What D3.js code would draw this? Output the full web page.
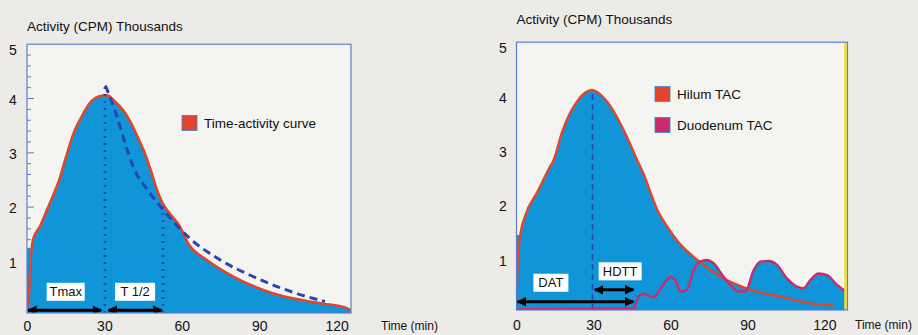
<!DOCTYPE html>
<html>
<head>
<meta charset="utf-8">
<script src="https://cdn.jsdelivr.net/npm/d3@7"></script>
<style>
  html, body { margin: 0; padding: 0; background: #ecebe8; }
  svg { display: block; }
  text { font-family: "Liberation Sans", Arial, sans-serif; fill: #111; }
</style>
</head>
<body>
<svg id="chart" width="918" height="335"></svg>
<script>
// ---- data: time (min) and activity (CPM, thousands) ----
const tacTime = [0, 0.8, 1.4, 2.5, 5, 7.5, 10, 12.5, 15, 18, 21, 25, 28, 31, 34, 37, 40, 43, 46, 48.5, 50.5, 52.5, 55, 59.3, 62.5, 69.6, 80, 95.5, 113.6, 124, 125.5];
const tacValue = [0.12, 0.42, 1.03, 1.43, 1.64, 1.92, 2.2, 2.5, 2.9, 3.35, 3.65, 3.95, 4.04, 4.06, 3.95, 3.8, 3.58, 3.28, 2.95, 2.6, 2.3, 2.08, 1.9, 1.64, 1.33, 1.03, 0.72, 0.41, 0.23, 0.14, 0.1];
const tacBase = 1.25;                       // flat leading fill level

const fitTime = [30.4, 34, 39.3, 41.2, 47, 52.8, 62.5, 74.8, 87.7, 104.5, 115.5];
const fitValue = [4.24, 3.79, 2.99, 2.74, 2.3, 1.95, 1.45, 1.03, 0.72, 0.41, 0.26];

const tmax = 30.2, tHalf = 52.7, tHalfLevel = 2.0;

const hilumTime = [0, 0.5, 1.4, 3.3, 7.9, 13.1, 14.5, 17.6, 24.1, 29.4, 34.7, 42.4, 47, 50, 52.3, 54.9, 58.8, 63.4, 70.5, 79.6, 91.3, 103, 114.6, 123.7];
const hilumValue = [0.1, 0.99, 1.42, 1.79, 2.22, 2.71, 2.83, 3.32, 3.94, 4.12, 3.94, 3.32, 2.83, 2.52, 2.22, 1.91, 1.6, 1.3, 0.99, 0.68, 0.44, 0.31, 0.19, 0.15];
const hilumBase = 1.45;

const duoTime = [0, 45.6, 47.5, 49.5, 53.4, 56.7, 59.9, 61.9, 63.8, 66.4, 69, 71.6, 74.2, 76.8, 80.7, 83.3, 86.6, 89.2, 92.4, 95, 98.3, 101.5, 105.4, 109.3, 111.9, 114.5, 117.8, 121.1, 124.9, 128.4];
const duoValue = [0.08, 0.1, 0.31, 0.37, 0.3, 0.5, 0.67, 0.62, 0.41, 0.44, 0.8, 0.96, 0.99, 0.93, 0.68, 0.53, 0.41, 0.41, 0.8, 0.96, 0.97, 0.9, 0.65, 0.5, 0.47, 0.62, 0.74, 0.71, 0.53, 0.41];

const tPeakRight = 29.6;
const datEnd = 46;

const xTicks = [0, 30, 60, 90, 120];
const yTicks = [1, 2, 3, 4, 5];
const yMinor = d3.range(0.2, 5.0, 0.2);
const axisTitle = "Activity (CPM) Thousands";
const timeTitle = "Time (min)";

// ---- style ----
const C = {
  fill: "#1096d8", red: "#e2442c", magenta: "#c92c6c", frame: "#5a7fcc",
  plotBg: "#f4f4f1", guide: "#2746b0", yellow: "#f0e020"
};

const svg = d3.select("#chart");
const defs = svg.append("defs");
defs.append("marker").attr("id", "ah").attr("viewBox", "0 0 10 10")
  .attr("refX", 9).attr("refY", 5).attr("markerWidth", 3.2).attr("markerHeight", 3.2)
  .attr("orient", "auto-start-reverse")
  .append("path").attr("d", "M0,0 L10,5 L0,10 z").attr("fill", "#000");

function zip(ts, vs) { return ts.map((t, i) => ({ t, v: vs[i] })); }

function panel(opt) {
  const x = d3.scaleLinear().domain(opt.xDomain).range(opt.xRange);
  const y = d3.scaleLinear().domain([0, 5]).range(opt.yRange);
  const [x0, x1] = opt.xRange;
  const yTop = y(5), yBot = opt.yBottom;
  const g = svg.append("g");

  g.append("rect").attr("x", x0).attr("y", yTop).attr("width", x1 - x0).attr("height", yBot - yTop)
    .attr("fill", C.plotBg);

  const clipId = "clip" + opt.id;
  defs.append("clipPath").attr("id", clipId).append("rect")
    .attr("x", x0).attr("y", yTop).attr("width", x1 - x0).attr("height", yBot - yTop);
  const plot = g.append("g").attr("clip-path", `url(#${clipId})`);

  const area = d3.area().x(d => x(d.t)).y0(yBot).y1(d => y(d.v)).curve(d3.curveMonotoneX);
  const line = d3.line().x(d => x(d.t)).y(d => y(d.v)).curve(d3.curveMonotoneX);

  // y axis labels
  const ya = g.append("g").attr("transform", `translate(${opt.yLabelX},0)`)
    .call(d3.axisLeft(y).tickValues(yTicks).tickSize(0).tickFormat(d3.format("d")));
  ya.select(".domain").remove();
  ya.selectAll("text").attr("x", 0).attr("text-anchor", "middle")
    .style("font-family", '"Liberation Sans", Arial, sans-serif').style("font-size", "14px").attr("fill", "#111")
    .attr("dy", d => d === 5 ? "0.75em" : "0.4em");

  // x axis labels
  const xa = g.append("g").attr("transform", `translate(0,${opt.xLabelY})`)
    .call(d3.axisBottom(x).tickValues(xTicks).tickSize(0).tickFormat(d3.format("d")));
  xa.select(".domain").remove();
  xa.selectAll("text").attr("y", 0).attr("dy", "0.35em")
    .style("font-family", '"Liberation Sans", Arial, sans-serif').style("font-size", "14px").attr("fill", "#111");

  g.append("text").attr("x", x0).attr("y", opt.titleY).attr("font-size", 13.5).text(axisTitle);
  g.append("text").attr("x", opt.timeX).attr("y", opt.xLabelY).attr("dy", "0.35em").attr("font-size", 12).text(timeTitle);

  return { g, plot, x, y, area, line, x0, x1, yTop, yBot };
}

function arrow(p, t0, t1, v) {
  p.plot.append("line").attr("x1", p.x(t0) + 1).attr("x2", p.x(t1) - 1)
    .attr("y1", p.y(v)).attr("y2", p.y(v))
    .attr("stroke", "#000").attr("stroke-width", 3)
    .attr("marker-start", "url(#ah)").attr("marker-end", "url(#ah)");
}
function tag(p, t, v, label, w) {
  const cx = p.x(t), cy = p.y(v);
  p.plot.append("rect").attr("x", cx - w / 2).attr("y", cy - 9).attr("width", w).attr("height", 18).attr("fill", "#fff");
  p.plot.append("text").attr("x", cx).attr("y", cy).attr("dy", "0.36em").attr("text-anchor", "middle")
    .attr("font-size", 13).text(label);
}
function frame(p) {
  p.g.append("rect").attr("x", p.x0).attr("y", p.yTop).attr("width", p.x1 - p.x0).attr("height", p.yBot - p.yTop)
    .attr("fill", "none").attr("stroke", C.frame).attr("stroke-width", 1.2);
}
function legend(p, items, lx, ly, gap) {
  items.forEach((it, i) => {
    const yy = ly + i * gap;
    p.g.append("rect").attr("x", lx).attr("y", yy - 7.5).attr("width", 15).attr("height", 15)
      .attr("fill", it.color).attr("stroke", "#3f86c8").attr("stroke-width", 0.8);
    p.g.append("text").attr("x", lx + 22).attr("y", yy).attr("dy", "0.36em").attr("font-size", 13.5).text(it.label);
  });
}

// ================= left panel: time-activity curve =================
const L = panel({ id: "L", xDomain: [0, 125.6], xRange: [27, 351], yRange: [315.7, 44.2], yBottom: 313,
  yLabelX: 13, xLabelY: 326, titleY: 31, timeX: 381 });
const tac = zip(tacTime, tacValue);

L.plot.append("path").datum(tac).attr("d", L.area).attr("fill", C.fill);
L.plot.append("rect").attr("x", L.x(0)).attr("y", L.y(tacBase))
  .attr("width", L.x(tacTime[2]) - L.x(0)).attr("height", L.yBot - L.y(tacBase)).attr("fill", C.fill);
L.plot.append("path").datum(tac).attr("d", L.line).attr("fill", "none")
  .attr("stroke", C.red).attr("stroke-width", 2.6);

// exponential fit (dashed)
L.plot.append("path").datum(zip(fitTime, fitValue)).attr("d", L.line).attr("fill", "none")
  .attr("stroke", C.guide).attr("stroke-width", 3).attr("stroke-dasharray", "8,5");

// dotted guides at Tmax and T1/2
L.plot.append("line").attr("x1", L.x(tmax)).attr("x2", L.x(tmax)).attr("y1", L.yBot).attr("y2", L.y(fitValue[0]))
  .attr("stroke", C.guide).attr("stroke-width", 2.6).attr("stroke-dasharray", "2,5");
L.plot.append("line").attr("x1", L.x(tHalf)).attr("x2", L.x(tHalf)).attr("y1", L.yBot).attr("y2", L.y(tHalfLevel))
  .attr("stroke", C.guide).attr("stroke-width", 2.6).attr("stroke-dasharray", "2,5");

arrow(L, 0, tmax - 1, 0.1);
arrow(L, tmax + 1, tHalf, 0.1);
tag(L, 15, 0.44, "Tmax", 38);
tag(L, 41.9, 0.44, "T 1/2", 40);

// inner y ticks
const tickG = L.g.append("g");
tickG.selectAll("line").data(yMinor).join("line")
  .attr("x1", L.x0).attr("x2", d => L.x0 + (Math.abs(d - Math.round(d)) < 1e-6 ? 7 : 4))
  .attr("y1", d => L.y(d)).attr("y2", d => L.y(d))
  .attr("stroke", C.frame).attr("stroke-width", 1);

frame(L);
legend(L, [{ label: "Time-activity curve", color: C.red }], 182, 123, 0);

// ================= right panel: hilum and duodenum =================
const R = panel({ id: "R", xDomain: [0, 129], xRange: [516.5, 847.5], yRange: [313.7, 42.2], yBottom: 310,
  yLabelX: 503, xLabelY: 325, titleY: 24, timeX: 855 });
const hilum = zip(hilumTime, hilumValue);
const duo = zip(duoTime, duoValue);

R.plot.append("path").datum(hilum).attr("d", R.area).attr("fill", C.fill);
R.plot.append("path").datum(duo).attr("d", R.area).attr("fill", C.fill);
R.plot.append("rect").attr("x", R.x(0)).attr("y", R.y(hilumBase))
  .attr("width", R.x(hilumTime[2]) - R.x(0)).attr("height", R.yBot - R.y(hilumBase)).attr("fill", C.fill);

R.plot.append("line").attr("x1", R.x(tPeakRight)).attr("x2", R.x(tPeakRight))
  .attr("y1", R.yBot).attr("y2", R.y(hilumValue[9]))
  .attr("stroke", C.guide).attr("stroke-width", 1.6).attr("stroke-dasharray", "6,4");

R.plot.append("path").datum(hilum).attr("d", R.line).attr("fill", "none")
  .attr("stroke", C.red).attr("stroke-width", 2.4);
R.plot.append("path").datum(duo).attr("d", R.line).attr("fill", "none")
  .attr("stroke", C.magenta).attr("stroke-width", 2.4);

arrow(R, 0, datEnd, 0.22);
arrow(R, tPeakRight + 0.5, datEnd, 0.44);
tag(R, 13.4, 0.57, "DAT", 35);
tag(R, 40.4, 0.78, "HDTT", 43);

R.g.append("line").attr("x1", R.x1 - 2).attr("x2", R.x1 - 2).attr("y1", R.yTop).attr("y2", R.yBot)
  .attr("stroke", C.yellow).attr("stroke-width", 2.5);
frame(R);
legend(R, [{ label: "Hilum TAC", color: C.red }, { label: "Duodenum TAC", color: C.magenta }], 655, 94, 31);
</script>
</body>
</html>
